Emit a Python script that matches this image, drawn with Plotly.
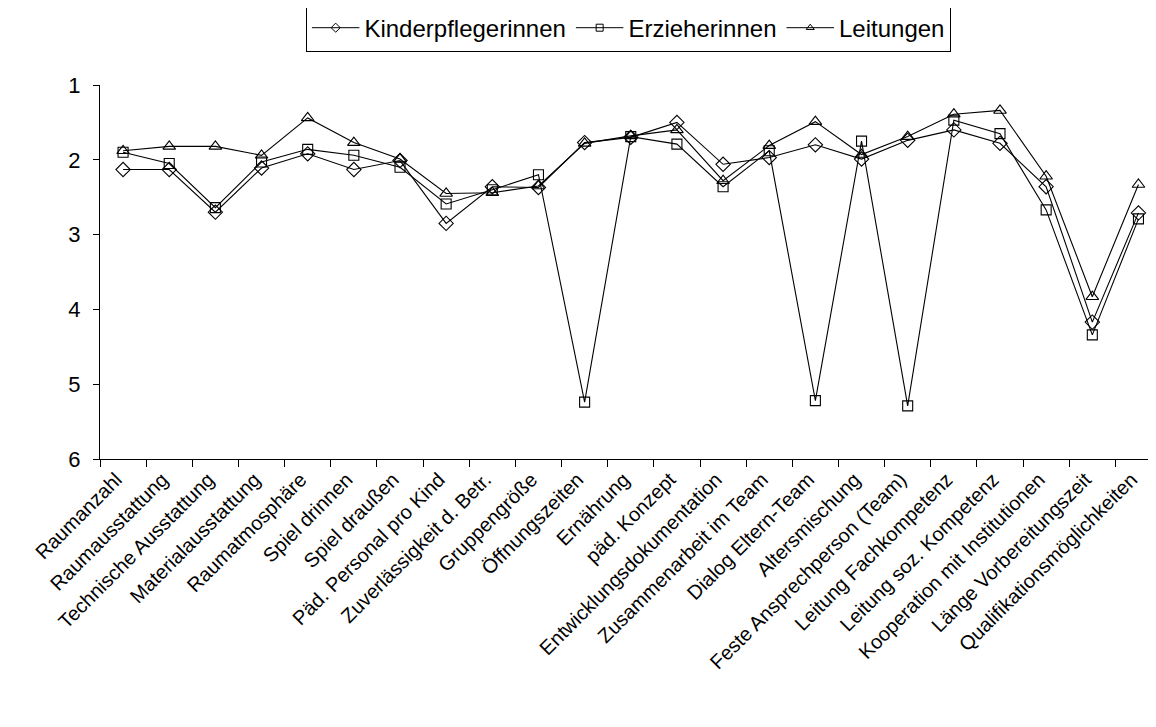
import plotly.graph_objects as go

categories = [
    "Raumanzahl", "Raumausstattung", "Technische Ausstattung", "Materialausstattung",
    "Raumatmosphäre", "Spiel drinnen", "Spiel draußen", "Päd. Personal pro Kind",
    "Zuverlässigkeit d. Betr.", "Gruppengröße", "Öffnungszeiten", "Ernährung",
    "päd. Konzept", "Entwicklungsdokumentation", "Zusammenarbeit im Team",
    "Dialog Eltern-Team", "Altersmischung", "Feste Ansprechperson (Team)",
    "Leitung Fachkompetenz", "Leitung soz. Kompetenz", "Kooperation mit Institutionen",
    "Länge Vorbereitungszeit", "Qualifikationsmöglichkeiten",
]

series_names = ["Kinderpflegerinnen", "Erzieherinnen", "Leitungen"]

kinderpflegerinnen = [2.13, 2.13, 2.70, 2.11, 1.92, 2.13, 2.01, 2.85, 2.36, 2.37,
                      1.77, 1.70, 1.50, 2.06, 1.97, 1.80, 1.99, 1.74, 1.60, 1.78,
                      2.36, 4.17, 2.71]
erzieherinnen = [1.90, 2.05, 2.64, 2.03, 1.86, 1.94, 2.10, 2.59, 2.40, 2.20,
                 5.24, 1.69, 1.79, 2.36, 1.88, 5.22, 1.75, 5.29, 1.47, 1.65,
                 2.67, 4.34, 2.79]
leitungen = [1.88, 1.82, 1.82, 1.94, 1.44, 1.77, 1.99, 2.45, 2.44, 2.35,
             1.78, 1.68, 1.60, 2.28, 1.81, 1.49, 1.93, 1.69, 1.39, 1.34,
             2.22, 3.83, 2.33]

values = [kinderpflegerinnen, erzieherinnen, leitungen]
symbols = ["diamond-open", "square-open", "triangle-up-open"]
sizes = [11, 10, 11]

fig = go.Figure()
for name, vals, sym, sz in zip(series_names, values, symbols, sizes):
    fig.add_trace(go.Scatter(
        x=categories, y=vals, name=name, mode="lines+markers", showlegend=False,
        line=dict(color="black", width=1.1),
        marker=dict(symbol=sym, size=sz, color="black", line=dict(color="black", width=1.1)),
    ))
# legend-only entries with the smaller legend symbols
for name, sym in zip(series_names, symbols):
    fig.add_trace(go.Scatter(
        x=[None], y=[None], name=name, mode="lines+markers", showlegend=True,
        line=dict(color="black", width=1),
        marker=dict(symbol=sym, size=7, color="black", line=dict(color="black", width=1)),
    ))

font = "Liberation Sans, Arial, sans-serif"
fig.update_layout(
    width=1156, height=727,
    margin=dict(l=92, r=8, t=77, b=276, autoexpand=False),
    paper_bgcolor="white", plot_bgcolor="white",
    font=dict(family=font, color="black", size=20),
    showlegend=True,
    legend=dict(
        orientation="h", x=0.195, xanchor="left", y=1.215, yanchor="top",
        bordercolor="black", borderwidth=1, font=dict(size=24, family=font),
        itemwidth=47.5, tracegroupgap=0,
    ),
)
fig.update_xaxes(
    type="category", range=[-0.5, 22.38],
    showline=True, linecolor="black", linewidth=1,
    ticks="outside", ticklen=7, tickcolor="black", tickson="boundaries",
    tickangle=-45, tickfont=dict(size=20, family=font), ticklabelshift=-7,
    showgrid=False, zeroline=False,
)
fig.update_yaxes(
    range=[6, 1], tickmode="array", tickvals=[1, 2, 3, 4, 5, 6],
    showline=True, linecolor="black", linewidth=1,
    ticks="outside", ticklen=6, tickcolor="black",
    tickfont=dict(size=22, family=font), ticklabelstandoff=8,
    showgrid=False, zeroline=False,
)

fig.write_html("out.html")
